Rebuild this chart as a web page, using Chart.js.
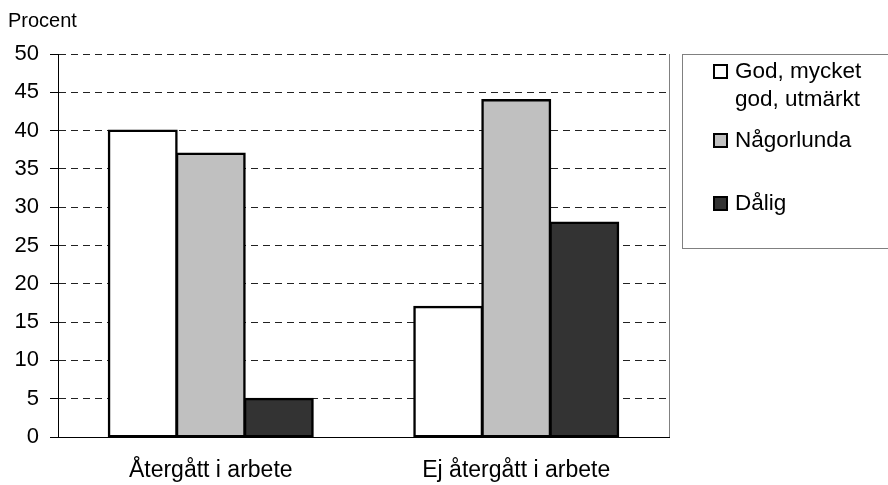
<!DOCTYPE html>
<html>
<head>
<meta charset="utf-8">
<script src="https://cdn.jsdelivr.net/npm/chart.js@4/dist/chart.umd.min.js"></script>
<style>
  html, body { margin: 0; padding: 0; background: #fff; }
  #wrap { position: relative; width: 888px; height: 485px; }
</style>
</head>
<body>
<div id="wrap"><canvas id="chart"></canvas></div>
<script>
// Data.
const categories = ['Återgått i arbete', 'Ej återgått i arbete'];
const seriesNames = [['God, mycket', 'god, utmärkt'], ['Någorlunda'], ['Dålig']];
const godValues = [40, 17];
const nagorlundaValues = [37, 44];
const daligValues = [5, 28];
const yTickValues = [0, 5, 10, 15, 20, 25, 30, 35, 40, 45, 50];

const FONT = '"Liberation Sans", Arial, sans-serif';
const colors = ['#ffffff', '#c0c0c0', '#333333'];

// Right-hand legend box, drawn by hand to match the Excel look.
const boxLegend = {
    id: 'boxLegend',
    afterDraw(chart) {
        const ctx = chart.ctx;
        const area = chart.chartArea;
        ctx.save();

        // Plot frame right edge.
        ctx.strokeStyle = '#808080';
        ctx.lineWidth = 1;
        ctx.beginPath();
        ctx.moveTo(area.right + 0.5, area.top);
        ctx.lineTo(area.right + 0.5, area.bottom);
        ctx.stroke();

        // Legend box.
        ctx.strokeRect(682.5, 54.5, 220, 194);

        // "Procent" axis title.
        ctx.fillStyle = '#000';
        ctx.font = '20px ' + FONT;
        ctx.textBaseline = 'alphabetic';
        ctx.textAlign = 'left';
        ctx.fillText('Procent', 8, 27);

        const baselines = [78, 147, 210];
        ctx.font = '22.5px ' + FONT;
        chart.data.datasets.forEach((ds, i) => {
            const y = baselines[i];
            ctx.fillStyle = ds.backgroundColor;
            ctx.fillRect(714, y - 13, 13, 13);
            ctx.strokeStyle = '#000';
            ctx.lineWidth = 2;
            ctx.strokeRect(714, y - 13, 13, 13);
            ctx.fillStyle = '#000';
            ds.label.forEach((line, j) => {
                ctx.fillText(line, 735, y + j * 28);
            });
        });
        ctx.restore();
    }
};

const datasets = [godValues, nagorlundaValues, daligValues].map((values, i) => ({
    label: seriesNames[i],
    data: values,
    backgroundColor: colors[i],
    borderColor: '#000',
    borderWidth: 2.5,
    borderSkipped: false,
    inflateAmount: 1,
    categoryPercentage: 0.668,
    barPercentage: 1.0,
}));

new Chart(document.getElementById('chart'), {
    type: 'bar',
    data: { labels: categories, datasets },
    options: {
        responsive: true,
        maintainAspectRatio: false,
        animation: false,
        layout: { padding: { top: 54, right: 219, left: 0, bottom: 0 } },
        plugins: {
            legend: { display: false },
            tooltip: { enabled: false },
        },
        scales: {
            x: {
                grid: { display: false, drawTicks: false },
                border: { display: true, color: '#000', width: 1 },
                ticks: {
                    color: '#000',
                    font: { family: FONT, size: 23 },
                    padding: 20,
                    maxRotation: 0,
                },
                afterFit(scale) { scale.height = 48; },
            },
            y: {
                min: 0,
                max: 50,
                afterBuildTicks(scale) {
                    scale.ticks = yTickValues.map(v => ({ value: v }));
                },
                grid: {
                    color: ctx => (ctx.tick && ctx.tick.value === 0) ? 'rgba(0,0,0,0)' : '#222',
                    tickColor: '#000',
                    tickBorderDash: [],
                    tickLength: 8,
                    lineWidth: 1,
                },
                border: { display: true, color: '#000', width: 1, dash: [7, 5] },
                ticks: {
                    color: '#000',
                    font: { family: FONT, size: 22 },
                    padding: 11,
                },
                afterFit(scale) { scale.width = 58; },
            },
        },
    },
    plugins: [boxLegend],
});
</script>
</body>
</html>
